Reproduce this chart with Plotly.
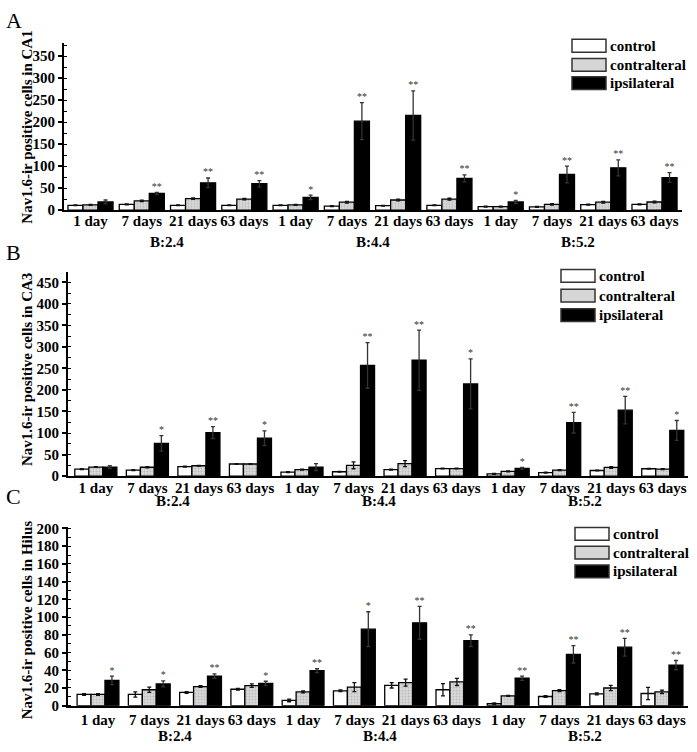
import plotly.graph_objects as go

# ---------------- data ----------------
categories = ["1 day", "7 days", "21 days", "63 days"] * 3
groups = ["B:2.4", "B:4.4", "B:5.2"]
series_names = ["control", "contralteral", "ipsilateral"]

# Panel A: CA1
a_control = [11, 13, 11, 11, 11, 9, 10, 11, 8, 7.5, 12.6, 13]
a_control_err = [1, 1, 1, 1, 1, 1, 1, 1, 1, 1, 1, 1]
a_contra = [12, 21, 26, 25, 12, 18, 23, 25, 8, 13, 18, 18.5]
a_contra_err = [1, 1.5, 1.5, 1.5, 1, 2, 2, 2, 1, 1.5, 2, 2]
a_ipsi = [18.5, 38, 62, 60, 29, 202, 215, 72, 18.5, 81, 96, 74]
a_ipsi_err = [4.5, 2.5, 11, 7, 5, 42, 56, 8, 3.5, 19, 18, 11]
a_sig = ["", "**", "**", "**", "*", "**", "**", "**", "*", "**", "**", "**"]

# Panel B: CA3
b_control = [16, 14, 22, 28, 9, 10, 15, 17.5, 5, 8, 13, 17]
b_control_err = [1, 1, 1, 1, 1, 1, 1, 1, 1, 1, 1, 1]
b_contra = [21, 20.5, 24, 28, 15, 25, 29, 17.5, 11, 14, 20, 16]
b_contra_err = [1, 1.5, 1, 1, 1, 8, 7, 1, 1, 1, 2, 1]
b_ipsi = [21, 76, 101, 88, 21, 257, 269, 214, 18, 124, 153, 106]
b_ipsi_err = [3, 18, 14, 17, 8, 53, 70, 58, 2, 24, 32, 23]
b_sig = ["", "*", "**", "*", "", "**", "**", "*", "*", "**", "**", "*"]

# Panel C: Hilus
c_control = [12.7, 12.7, 15, 18.6, 6, 16.8, 23, 18, 2.2, 10.4, 13.4, 13.8]
c_control_err = [1, 3, 1, 1, 1.5, 1, 3, 7, 1, 1, 1, 7]
c_contra = [12.7, 18, 21.6, 22.7, 15.6, 21, 26, 26.8, 11.2, 17, 20, 15.6]
c_contra_err = [1, 3, 1, 2, 1, 5, 4, 4, 0.5, 1, 3, 2]
c_ipsi = [28.7, 24.6, 33.5, 25.3, 39.5, 86.4, 93.5, 73.4, 31, 58, 66, 45.8]
c_ipsi_err = [4.8, 3.4, 2.5, 2.3, 2.2, 19.6, 18.5, 6.6, 2.5, 9.8, 10, 5.2]
c_sig = ["*", "*", "**", "*", "**", "*", "**", "**", "**", "**", "**", "**"]

y_titles = ["Nav1.6-ir positive cells in CA1",
            "Nav1.6-ir positive cells in CA3",
            "Nav1.6-ir positive cells in Hilus"]
panel_letters = ["A", "B", "C"]

# ---------------- styling ----------------
W, H = 697, 752
FONT = "Liberation Serif"
idx = list(range(len(categories)))

panels = [
    dict(vals=[a_control, a_contra, a_ipsi], errs=[a_control_err, a_contra_err, a_ipsi_err], sig=a_sig,
         xpx=(64, 682), ypx=(38, 208), yrange=[0, 379], dtick=50, minor=25,
         xrange=[-0.517, 11.536], bw=0.293, standoff=-4, grp_y=240,
         leg_x=572, leg_y=[40.5, 60, 78.5], title_cy=124, letter_y=15),
    dict(vals=[b_control, b_contra, b_ipsi], errs=[b_control_err, b_contra_err, b_ipsi_err], sig=b_sig,
         xpx=(68, 688), ypx=(271, 479), yrange=[0, 474], dtick=50, minor=25,
         xrange=[-0.54, 11.49], bw=0.272, standoff=-3, grp_y=504,
         leg_x=561, leg_y=[275, 295, 315], title_cy=371, letter_y=251),
    dict(vals=[c_control, c_contra, c_ipsi], errs=[c_control_err, c_contra_err, c_ipsi_err], sig=c_sig,
         xpx=(68, 688), ypx=(531, 713), yrange=[0, 201.5], dtick=20, minor=10,
         xrange=[-0.585, 11.507], bw=0.272, standoff=-1, grp_y=744,
         leg_x=575, leg_y=[538, 557, 576], title_cy=626, letter_y=500),
]

fills = ["white", "#d6d6d6", "black"]

fig = go.Figure()
shapes = []
annotations = []

for p_i, p in enumerate(panels):
    xa = "x" if p_i == 0 else f"x{p_i+1}"
    ya = "y" if p_i == 0 else f"y{p_i+1}"
    bw = p["bw"]
    for s_i in range(3):
        marker = dict(color=fills[s_i], line=dict(color="black", width=1.3))
        if s_i == 1:
            marker["pattern"] = dict(shape=".", fgcolor="#9a9a9a", bgcolor="#dadada",
                                     size=3, solidity=0.35)
        fig.add_trace(go.Bar(
            x=idx, y=p["vals"][s_i], name=series_names[s_i],
            width=bw, offset=(s_i - 1.5) * bw,
            marker=marker,
            error_y=dict(type="data", array=p["errs"][s_i], visible=True,
                         color="#111" if s_i < 2 else "#333", thickness=1.3, width=2),
            xaxis=xa, yaxis=ya, showlegend=False))
    # significance marks above ipsilateral bars
    fig.add_trace(go.Scatter(
        x=[i + bw for i in idx],
        y=[v + e for v, e in zip(p["vals"][2], p["errs"][2])],
        text=p["sig"], mode="text", textposition="top center",
        textfont=dict(family=FONT, size=10, color="#333"),
        xaxis=xa, yaxis=ya, showlegend=False, hoverinfo="skip"))

    x0, x1 = p["xpx"]
    yt, yb = p["ypx"]
    axis_suffix = "" if p_i == 0 else str(p_i + 1)
    fig.update_layout(**{
        f"xaxis{axis_suffix}": dict(
            domain=[x0 / W, x1 / W], range=p["xrange"], anchor=ya,
            tickmode="array", tickvals=idx, ticktext=[f"<b>{c}</b>" for c in categories],
            ticks="", showline=True, linecolor="black", linewidth=2,
            showgrid=False, zeroline=False, ticklabelstandoff=p["standoff"],
            tickfont=dict(family=FONT, size=15, color="black")),
        f"yaxis{axis_suffix}": dict(
            domain=[1 - yb / H, 1 - yt / H], range=p["yrange"], anchor=xa,
            dtick=p["dtick"], ticks="outside", ticklen=4, tickwidth=1.5, tickcolor="black",
            minor=dict(dtick=p["minor"], ticks="inside", ticklen=3, tickwidth=1.2, tickcolor="black"),
            showline=True, linecolor="black", linewidth=2,
            showgrid=False, zeroline=False, tickprefix="<b>", ticksuffix="</b>",
            tickfont=dict(family=FONT, size=15, color="black")),
    })

    # group labels
    for g_i, g in enumerate(groups):
        annotations.append(dict(
            x=g_i * 4 + 1.5, y=1 - p["grp_y"] / H, xref=xa, yref="paper",
            text=f"<b>{g}</b>", showarrow=False, xanchor="center", yanchor="middle",
            font=dict(family=FONT, size=15, color="black")))
    # y axis title
    annotations.append(dict(
        x=27 / W, y=1 - p["title_cy"] / H, xref="paper", yref="paper",
        text=f"<b>{y_titles[p_i]}</b>", textangle=-90, showarrow=False,
        xanchor="center", yanchor="middle",
        font=dict(family=FONT, size=15, color="black")))
    # panel letter
    annotations.append(dict(
        x=14 / W, y=1 - p["letter_y"] / H, xref="paper", yref="paper",
        text=panel_letters[p_i], showarrow=False, xanchor="center", yanchor="middle",
        font=dict(family=FONT, size=22, color="black")))
    # legend (manual, boxes like the original)
    for s_i in range(3):
        cy = p["leg_y"][s_i]
        lx = p["leg_x"]
        shapes.append(dict(
            type="rect", xref="paper", yref="paper",
            x0=lx / W, x1=(lx + 34) / W, y0=1 - (cy + 6.5) / H, y1=1 - (cy - 6.5) / H,
            fillcolor=fills[s_i], line=dict(color="#333", width=1.5)))
        annotations.append(dict(
            x=(lx + 36) / W, y=1 - cy / H, xref="paper", yref="paper",
            text=f"<b>{series_names[s_i]}</b>", showarrow=False, xanchor="left", yanchor="middle",
            font=dict(family=FONT, size=15, color="black")))

fig.update_layout(
    width=W, height=H, margin=dict(l=0, r=0, t=0, b=0),
    paper_bgcolor="white", plot_bgcolor="white",
    barmode="overlay", showlegend=False,
    shapes=shapes, annotations=annotations,
    font=dict(family=FONT, color="black"),
)

fig.write_html("out.html", config={"displayModeBar": False},
               post_script="document.body.style.margin='0';document.body.style.overflow='hidden';")
